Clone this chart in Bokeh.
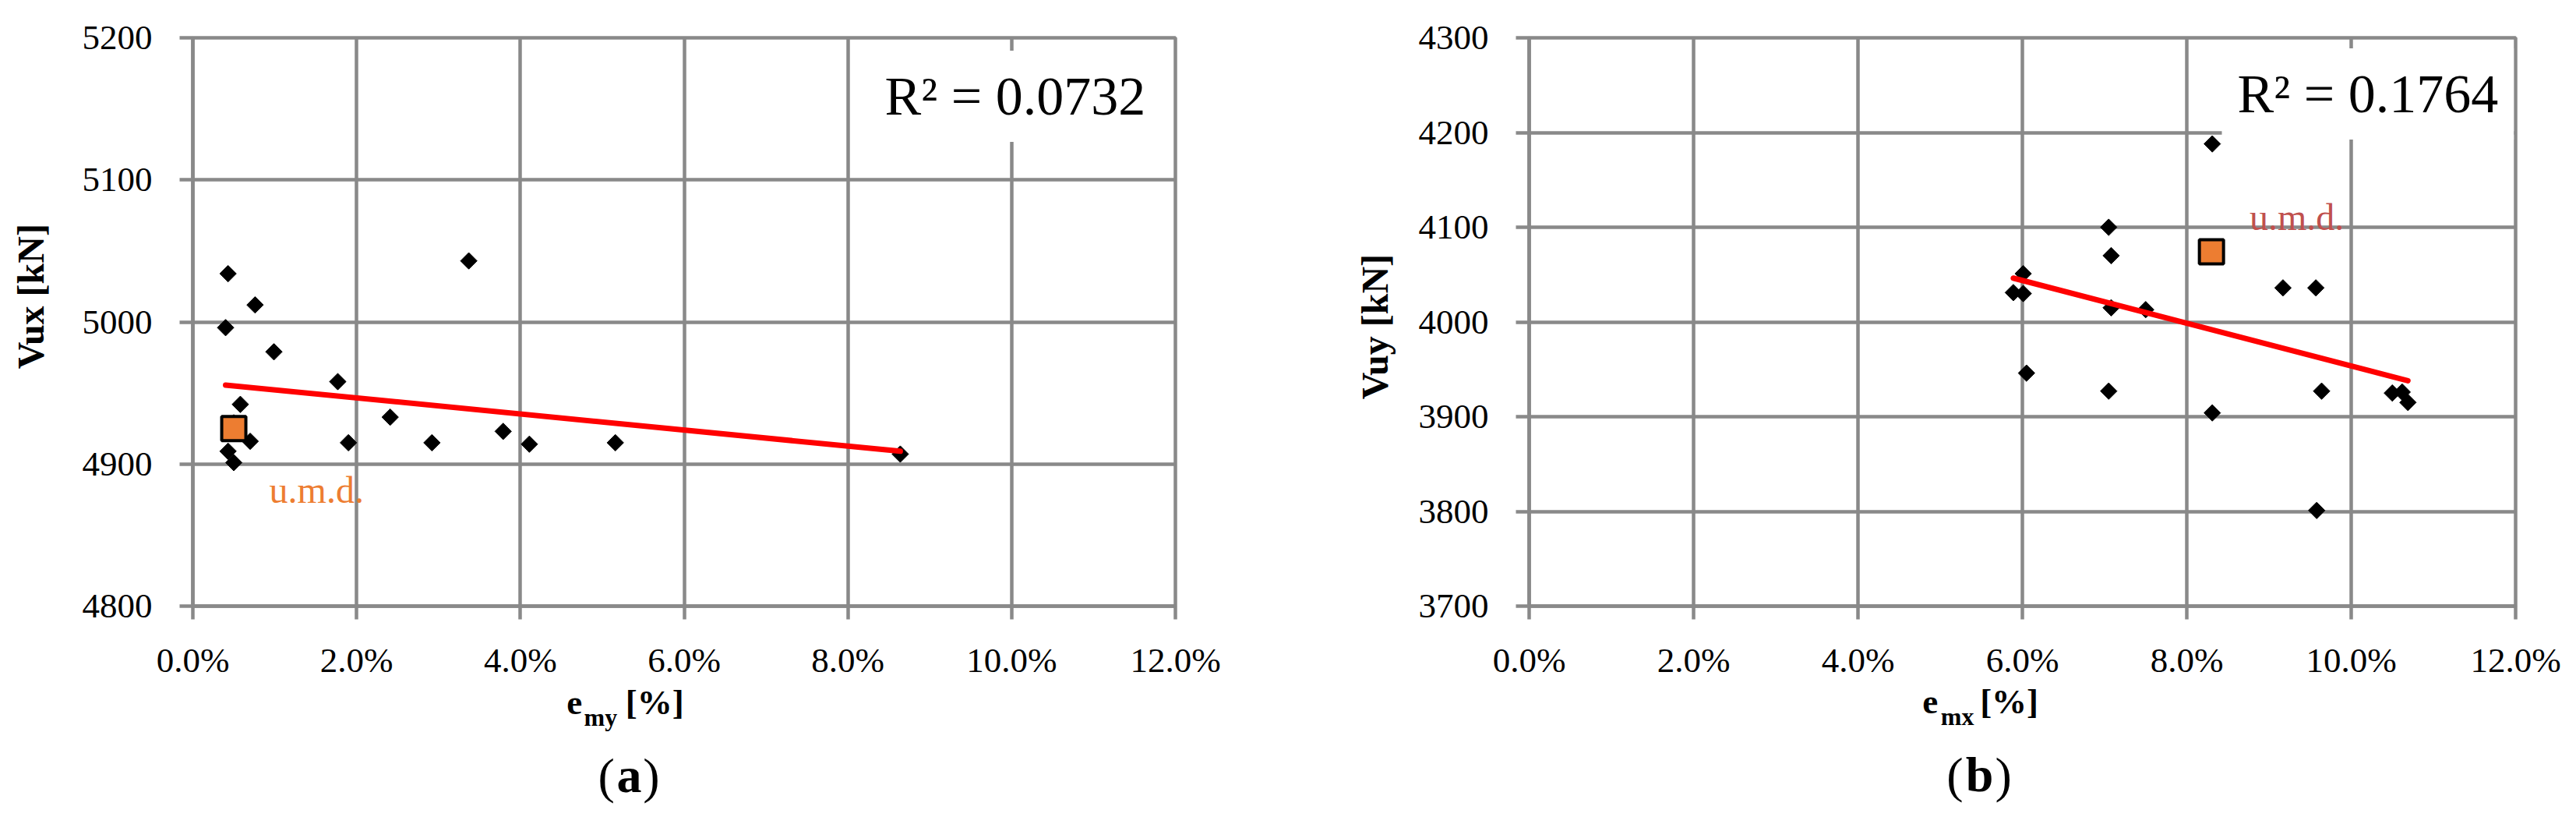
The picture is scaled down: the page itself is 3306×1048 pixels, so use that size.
import numpy as np
from bokeh.plotting import figure
from bokeh.models import Range1d, FixedTicker, PrintfTickFormatter, Label, LinearAxis
from bokeh.layouts import row
from bokeh.embed import file_html
from bokeh.resources import INLINE

# ---------------- data ----------------
x_ticks = [0, 2, 4, 6, 8, 10, 12]

# panel (a)
a_emy = [0.43, 0.76, 0.40, 0.99, 1.77, 3.37, 0.58, 2.41, 3.79, 1.90,
         2.92, 4.11, 5.16, 0.70, 0.43, 0.50, 0.50, 8.64]
a_vux = [5034, 5012, 4996, 4979, 4958, 5043, 4942, 4933, 4923, 4915,
         4915, 4914, 4915, 4916, 4909, 4901, 4929, 4907]
a_umd_x = [0.50]
a_umd_y = [4925]
a_trend_x = [0.40, 8.64]
a_trend_y = [4955.6, 4909.0]
a_y_ticks = [4800, 4900, 5000, 5100, 5200]
a_r2 = "R² = 0.0732"
a_ylabel = "Vux [kN]"
a_sub = "my"

# panel (b)
b_emx = [8.31, 7.05, 7.08, 6.01, 5.89, 6.01, 7.08, 7.50, 9.17, 9.57,
         6.05, 7.05, 9.64, 8.31, 10.50, 10.62, 10.69, 9.58]
b_vuy = [4188, 4100, 4070, 4051, 4031, 4030, 4015, 4013, 4036, 4036,
         3946, 3927, 3927, 3904, 3925, 3926, 3915, 3801]
b_umd_x = [8.30]
b_umd_y = [4074]
b_trend_x = [5.89, 10.69]
b_trend_y = [4046.3, 3938.0]
b_y_ticks = [3700, 3800, 3900, 4000, 4100, 4200, 4300]
b_r2 = "R² = 0.1764"
b_ylabel = "Vuy [kN]"
b_sub = "mx"

GRID = "#898989"
FONT = "Liberation Serif"
K_EXT = 1.16    # axis label box height / font size (as laid out by BokehJS)
K_BASE = 0.92   # box top to alphabetic baseline / font size


def text_axis(p, side, ticks, texts, size, style, standoff, orientation="horizontal"):
    ax = LinearAxis(ticker=FixedTicker(ticks=list(ticks)),
                    major_label_overrides={t: s for t, s in zip(ticks, texts)},
                    axis_line_color=None, major_tick_line_color=None,
                    minor_tick_line_color=None, major_tick_out=0, major_tick_in=0,
                    major_label_standoff=int(round(standoff)),
                    major_label_text_font=FONT,
                    major_label_text_font_size=f"{size}px",
                    major_label_text_font_style=style,
                    major_label_text_color="black",
                    major_label_orientation=orientation)
    p.add_layout(ax, side)


def make_panel(width, height, borders, frame_bottom, xs, ys, umd_x, umd_y,
               tx, ty, yticks, r2, r2_pos, umd_pos, umd_color,
               ylab, ylab_val, ylab_stand, sub, xl_pos, letter, letter_pos):
    left, right, top, bottom = borders
    p = figure(width=width, height=height,
               x_range=Range1d(0, 12), y_range=Range1d(yticks[0], yticks[-1]),
               output_backend="svg", toolbar_location=None,
               min_border_left=left, min_border_right=right,
               min_border_top=top, min_border_bottom=bottom,
               background_fill_color="white", border_fill_color="white")
    p.outline_line_color = GRID
    p.outline_line_width = 4.5

    p.xaxis.ticker = FixedTicker(ticks=x_ticks)
    p.xaxis.formatter = PrintfTickFormatter(format="%.1f%%")
    p.yaxis.ticker = FixedTicker(ticks=yticks)
    for ax in (p.xaxis[0], p.yaxis[0]):
        ax.axis_line_color = GRID
        ax.axis_line_width = 4.5
        ax.major_tick_line_color = GRID
        ax.major_tick_line_width = 4.5
        ax.major_tick_out = 17
        ax.major_tick_in = 0
        ax.minor_tick_line_color = None
        ax.major_label_text_font = FONT
        ax.major_label_text_font_size = "45px"
        ax.major_label_text_color = "black"
    main_stand = 27
    p.xaxis.major_label_standoff = main_stand
    p.yaxis.major_label_standoff = 35

    p.xgrid.grid_line_color = GRID
    p.xgrid.grid_line_width = 4.5
    p.ygrid.grid_line_color = GRID
    p.ygrid.grid_line_width = 4.5

    p.scatter(xs, ys, marker="square", size=15, angle=np.pi / 4,
              fill_color="black", line_color="black", line_width=1)
    p.line(tx, ty, line_color="#FF0000", line_width=7, line_cap="round")
    p.scatter(umd_x, umd_y, marker="square", size=31,
              fill_color="#ED7D31", line_color="black", line_width=4)

    p.add_layout(Label(x=umd_pos[0], y=umd_pos[1], text="u.m.d.",
                       text_font=FONT, text_font_size="48px",
                       text_color=umd_color, text_align="left",
                       text_baseline="alphabetic"))

    p.add_layout(Label(x=r2_pos[0], y=r2_pos[1], x_units="screen", y_units="screen",
                       text=r2, text_font=FONT, text_font_size="70px",
                       text_color="black", text_align="left",
                       text_baseline="alphabetic",
                       background_fill_color="white", padding=20))

    # y axis title: an extra left axis with one vertical tick label
    text_axis(p, "left", [ylab_val], [ylab], 48, "bold", ylab_stand, "vertical")

    # x axis title and panel letter: extra axes below, stacked in order
    e_x, sub_x, br_x = xl_pos
    lp_x, l_x, rp_x = letter_pos
    base_main, base_sub, base_letter = 916, 929, 1014  # target baselines (px)
    cur = frame_bottom + 17 + main_stand + K_EXT * 45
    plan = [
        ([e_x, br_x], ["e", "[%]"], 45, "bold", base_main),
        ([sub_x], [sub], 32, "bold", base_sub),
        ([lp_x, rp_x], ["(", ")"], 64, "normal", base_letter),
        ([l_x], [letter], 64, "bold", base_letter),
    ]
    for ticks, texts, f, style, base in plan:
        anchor = base - K_BASE * f
        s = anchor - cur
        text_axis(p, "below", ticks, texts, f, style, s)
        cur = cur + max(0.0, round(s) + K_EXT * f)
    return p


H = 1046
pa = make_panel(1650, H, (247, 142, 48, H - 777), 777, a_emy, a_vux, a_umd_x, a_umd_y,
                a_trend_x, a_trend_y, a_y_ticks, a_r2, (868, 654),
                (0.933, 4881.8), "#ED7D31", a_ylabel, 5018, 36, a_sub,
                (4.66, 4.98, 5.64), "a", (5.05, 5.33, 5.60))
pb = make_panel(1654, H, (312, 76, 40, H - 778), 778, b_emx, b_vuy, b_umd_x, b_umd_y,
                b_trend_x, b_trend_y, b_y_ticks, b_r2, (889, 657),
                (8.763, 4110.9), "#C0504D", b_ylabel, 3995, 26, b_sub,
                (4.88, 5.21, 5.84), "b", (5.18, 5.48, 5.77))

layout = row(pa, pb)
open("out.html", "w").write(file_html(layout, INLINE))
